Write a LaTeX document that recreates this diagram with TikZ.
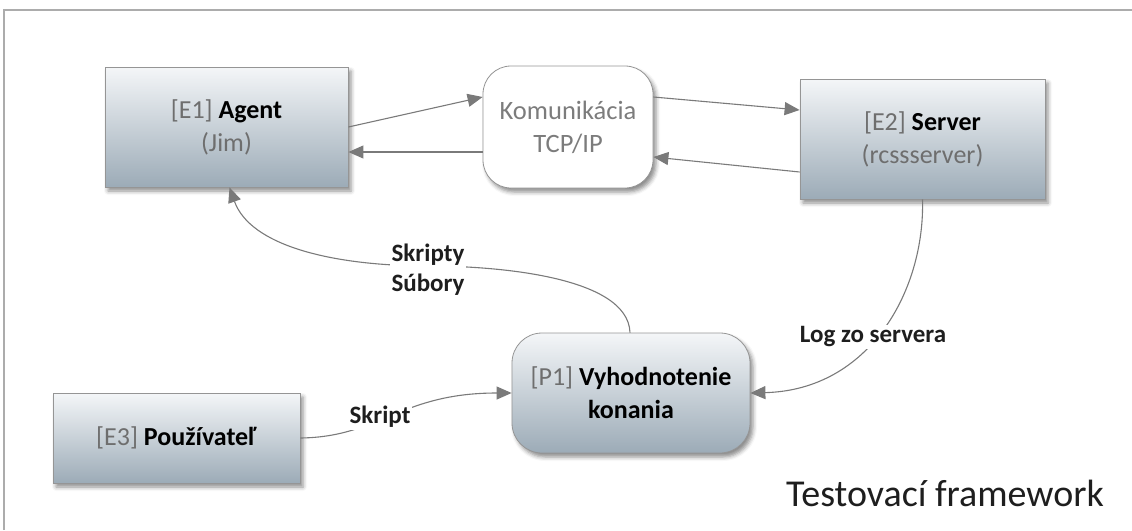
\documentclass[tikz,border=0pt]{standalone}
\usepackage{fontspec}
\setmainfont{Carlito}
\usetikzlibrary{arrows.meta,calc,shadows.blur}
\definecolor{boxtop}{HTML}{F4F6F8}
\definecolor{boxbot}{HTML}{9CABB7}
\definecolor{edgegray}{HTML}{7A7A7A}
\definecolor{idgray}{HTML}{6E6E6E}
\definecolor{txtdark}{HTML}{1E1E1E}
\tikzset{
  entity/.style={draw=edgegray!80, line width=0.8pt, top color=boxtop, bottom color=boxbot,
    align=center, inner sep=0pt,
    blur shadow={shadow xshift=3pt, shadow yshift=-4pt, shadow blur radius=4pt, shadow opacity=45},
    font=\fontsize{26}{33}\selectfont},
  process/.style={entity, rounded corners=30pt},
  comm/.style={draw=edgegray!80, line width=0.8pt, fill=white, rounded corners=28pt, align=center,
    inner sep=0pt,
    blur shadow={shadow xshift=3pt, shadow yshift=-4pt, shadow blur radius=4pt, shadow opacity=45},
    text=idgray!90, font=\fontsize{26.5}{33}\selectfont},
  flow/.style={draw=edgegray, line width=1.1pt, -{Triangle[length=15pt,width=13pt]}, color=edgegray},
  flowlabel/.style={fill=white, inner sep=2pt, text=txtdark, align=center,
    font=\bfseries\fontsize{25}{30}\selectfont},
}
\newcommand{\eid}[1]{\textcolor{idgray}{#1}}
\begin{document}
\begin{tikzpicture}[x=1pt,y=-1pt]
\useasboundingbox (0,0) rectangle (1132,530);
% frame
\draw[gray!65, line width=1.3pt] (4,530) -- (4,10) -- (1132,10);

% nodes
\node[entity, minimum width=243pt, minimum height=120pt] (agent) at (226.5,127)
  {\eid{[E1]} \textbf{Agent}\\ \eid{(Jim)}};
\node[comm, minimum width=170pt, minimum height=122pt] (kom) at (568,127)
  {Komunikácia\\TCP/IP};
\node[entity, minimum width=245pt, minimum height=120pt] (server) at (922.5,139)
  {\eid{[E2]} \textbf{Server}\\ \eid{(rcssserver)}};
\node[process, minimum width=238pt, minimum height=120pt] (p1) at (631,393)
  {\eid{[P1]} \textbf{Vyhodnotenie}\\ \textbf{konania}};
\node[entity, minimum width=247pt, minimum height=90pt] (user) at (176.5,438)
  {\eid{[E3]} \textbf{Používateľ}};

\node[text=txtdark, font=\fontsize{38}{44}\selectfont] (title) at (945,493) {Testovací framework};

% connectors
\draw[flow] (agent.east) -- ($(kom.west)+(0,-30)$);
\draw[flow] ($(kom.west)+(0,25)$) -- ($(agent.east)+(0,25)$);
\draw[flow] ($(kom.east)+(0,-30)$) -- ($(server.west)+(0,-29)$);
\draw[flow] ($(server.west)+(0,33)$) -- ($(kom.east)+(0,30)$);

\coordinate (p1top) at ($(p1.north)+(-1,0)$);
\coordinate (agbot) at ($(agent.south)+(3,0)$);
\draw[flow] (p1top) .. controls (628,275) and (490,266) .. (430,266)
  .. controls (330,266) and (250,245) .. (agbot);
\node[flowlabel] (lblskripty) at (428,270) {Skripty\\Súbory};

\draw[flow] (server.south) .. controls (925,290) and (870,390) .. (p1.east);
\node[flowlabel] (lbllog) at (873,337) {Log zo servera};

\draw[flow] (user.east) .. controls (380,437) and (400,393) .. (p1.west);
\node[flowlabel] (lblskript) at (380,417) {Skript};
\end{tikzpicture}
\end{document}
